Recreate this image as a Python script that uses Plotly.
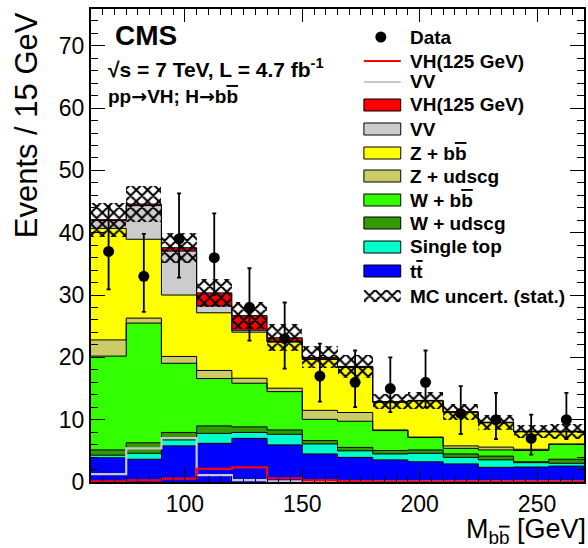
import numpy as np
import plotly.graph_objects as go

# ---------------- data ----------------
bin_edges = [60, 75, 90, 105, 120, 135, 150, 165, 180, 195, 210, 225, 240, 255, 270]
data_counts = [37, 33, 39, 36, 28, 23, 17, 16, 15, 16, 11, 10, 7, 10]
data_err_up = [7.1, 6.8, 7.3, 7.1, 6.3, 5.8, 5.2, 5.1, 5.0, 5.1, 4.4, 4.3, 3.8, 4.3]
data_err_dn = [6.1, 5.7, 6.2, 6.0, 5.3, 4.8, 4.1, 4.0, 3.8, 4.0, 3.3, 3.1, 2.6, 3.1]

ttbar = [3.9, 3.65, 5.8, 6.2, 7.0, 5.95, 4.5, 3.95, 3.55, 3.25, 2.9, 2.35, 2.4, 2.55]
single_top = [0.4, 0.95, 0.95, 1.6, 0.95, 1.7, 1.6, 1.05, 0.95, 1.35, 1.05, 1.2, 0.7, 0.45]
w_udscg = [0.85, 1.7, 1.2, 1.2, 0.9, 0.7, 0.55, 0.55, 0.55, 0.55, 0.55, 0.6, 0.15, 0.65]
w_bb = [15.05, 19.2, 11.1, 7.6, 7.0, 6.15, 3.4, 4.2, 3.2, 2.0, 0.9, 1.0, 1.8, 2.4]
z_udscg = [2.6, 0.8, 1.1, 1.3, 0.8, 0.55, 1.45, 1.4, 0.1, 0.05, 0.4, 0.45, 0.2, 0.05]
z_bb = [17.9, 12.65, 9.85, 9.25, 7.4, 7.4, 8.15, 7.25, 4.45, 5.8, 5.35, 3.9, 2.8, 1.95]
vv = [1.25, 5.4, 7.05, 1.1, 0.3, 0.1, 0.1, 0.05, 0.05, 0.05, 0.05, 0.05, 0.05, 0.05]
vh = [0.1, 0.25, 0.55, 2.1, 2.35, 0.6, 0.25, 0.1, 0.05, 0.05, 0.05, 0.05, 0.05, 0.05]
mc_stat = [2.7, 2.85, 2.4, 2.2, 2.2, 2.2, 1.75, 1.8, 1.25, 1.4, 1.3, 1.2, 1.05, 1.2]

components = [
    ("tt", ttbar, "#0000ff"),
    ("Single top", single_top, "#00ffcc"),
    ("W + udscg", w_udscg, "#339900"),
    ("W + bb", w_bb, "#33ff00"),
    ("Z + udscg", z_udscg, "#cccc66"),
    ("Z + bb", z_bb, "#ffff00"),
    ("VV", vv, "#cccccc"),
    ("VH(125 GeV)", vh, "#ff0000"),
]

edges = np.array(bin_edges, dtype=float)
centers = 0.5 * (edges[:-1] + edges[1:])
widths = np.diff(edges)

FONT = "Liberation Sans"
fig = go.Figure()

base = np.zeros(len(centers))
tops = []
for name, vals, col in components:
    v = np.array(vals, dtype=float)
    fig.add_trace(go.Bar(x=centers, y=v, base=base, width=widths,
                         marker=dict(color=col, line=dict(width=0)),
                         showlegend=False, hoverinfo="skip"))
    base = base + v
    tops.append(base.copy())
total = base

# MC stat uncertainty hatch
err = np.array(mc_stat)
hatch = dict(shape="x", fgcolor="black", fgopacity=1, bgcolor="rgba(0,0,0,0)",
             size=8, solidity=0.45, fillmode="overlay")
fig.add_trace(go.Bar(x=centers, y=2 * err, base=total - err, width=widths,
                     marker=dict(color="rgba(0,0,0,0)", line=dict(width=0), pattern=hatch),
                     showlegend=False, hoverinfo="skip"))

# step outlines of the stack
for t in tops:
    fig.add_trace(go.Scatter(x=edges, y=np.append(t, t[-1]), mode="lines",
                             line=dict(color="black", width=1, shape="hv"),
                             showlegend=False, hoverinfo="skip"))

# unstacked VV and VH lines
for vals, col in [(vv, "#c8c8c8"), (vh, "#ff0000")]:
    v = np.array(vals)
    fig.add_trace(go.Scatter(x=edges, y=np.append(v, v[-1]), mode="lines",
                             line=dict(color=col, width=2.2, shape="hv"),
                             showlegend=False, hoverinfo="skip"))

# data
fig.add_trace(go.Scatter(x=centers, y=data_counts, mode="markers",
                         marker=dict(color="black", size=11, symbol="circle"),
                         error_y=dict(type="data", symmetric=False, array=data_err_up,
                                      arrayminus=data_err_dn, color="black",
                                      thickness=1.8, width=2),
                         showlegend=False, hoverinfo="skip"))

# ---------------- layout ----------------
W, H = 588, 548
L, R, T, B = 91, 2, 9, 66
pw, ph = W - L - R, H - T - B


def px(x):
    return (x - L) / pw


def py(y):
    return (H - B - y) / ph


OV = "<span style='text-decoration:overline'>b</span>"
OVT = "<span style='text-decoration:overline'>t</span>"
ARR = "<span style='font-family:DejaVu Sans'>\u2192</span>"

annotations = []
shapes = []

# y title
annotations.append(dict(text="Events / 15 GeV", xref="paper", yref="paper",
                        x=px(26), y=py(10), xanchor="center", yanchor="top",
                        textangle=-90, showarrow=False,
                        font=dict(family=FONT, size=31, color="black")))
# x title
annotations.append(dict(text="M<sub>b" + OV + "</sub> [GeV]", xref="paper", yref="paper",
                        x=px(590), y=py(512), xanchor="right", yanchor="top",
                        showarrow=False, font=dict(family=FONT, size=27, color="black")))

# CMS labels
annotations.append(dict(text="<b>CMS</b>", xref="paper", yref="paper", x=px(113), y=py(36),
                        xanchor="left", yanchor="middle", showarrow=False,
                        font=dict(family=FONT, size=28, color="black")))
annotations.append(dict(text="<b>\u221as = 7 TeV, L = 4.7 fb<sup>-1</sup></b>", xref="paper",
                        yref="paper", x=px(106), y=py(68), xanchor="left", yanchor="middle",
                        showarrow=False, font=dict(family=FONT, size=21, color="black")))
annotations.append(dict(text="<b>pp" + ARR + "VH; H" + ARR + "b" + OV + "</b>",
                        xref="paper", yref="paper", x=px(106), y=py(96), xanchor="left",
                        yanchor="middle", showarrow=False,
                        font=dict(family=FONT, size=19, color="black")))

# legend
leg_x0, leg_x1, leg_tx = 365, 402, 409
leg_font = dict(family=FONT, size=19, color="black")
leg_items = [
    ("Data", "marker", None, 37),
    ("VH(125 GeV)", "line", "#ff0000", 61),
    ("VV", "line", "#c8c8c8", 82),
    ("VH(125 GeV)", "box", "#ff0000", 105),
    ("VV", "box", "#cccccc", 129),
    ("Z + b" + OV, "box", "#ffff00", 153),
    ("Z + udscg", "box", "#cccc66", 176),
    ("W + b" + OV, "box", "#33ff00", 200),
    ("W + udscg", "box", "#339900", 223),
    ("Single top", "box", "#00ffcc", 247),
    ("t" + OVT, "box", "#0000ff", 271),
    ("MC uncert. (stat.)", "hatch", None, 296),
]
hatch_dom_x = [0, 1]
hatch_dom_y = [0, 1]
for label, kind, col, yc in leg_items:
    annotations.append(dict(text="<b>" + label + "</b>", xref="paper", yref="paper",
                            x=px(leg_tx), y=py(yc), xanchor="left", yanchor="middle",
                            showarrow=False, font=leg_font))
    if kind == "marker":
        shapes.append(dict(type="circle", xref="paper", yref="paper",
                           x0=px(382 - 5.5), x1=px(382 + 5.5), y0=py(yc + 5.5),
                           y1=py(yc - 5.5),
                           fillcolor="black", line=dict(color="black", width=0)))
    elif kind == "line":
        shapes.append(dict(type="line", xref="paper", yref="paper",
                           x0=px(leg_x0), x1=px(leg_x1), y0=py(yc), y1=py(yc),
                           line=dict(color=col, width=2.2)))
    elif kind == "box":
        shapes.append(dict(type="rect", xref="paper", yref="paper",
                           x0=px(leg_x0), x1=px(leg_x1), y0=py(yc + 6), y1=py(yc - 6),
                           fillcolor=col, line=dict(color="black", width=1)))
    elif kind == "hatch":
        hatch_dom_x = [px(leg_x0), px(leg_x1)]
        hatch_dom_y = [py(yc + 6), py(yc - 6)]

# hatched legend box on a small helper axis
fig.add_trace(go.Bar(x=[0], y=[1], width=[1], xaxis="x2", yaxis="y2",
                     marker=dict(color="rgba(0,0,0,0)", line=dict(width=0), pattern=hatch),
                     showlegend=False, hoverinfo="skip"))

axis_common = dict(showline=True, linecolor="black", linewidth=2, mirror="allticks",
                   ticks="inside", tickcolor="black", tickwidth=1.2, showgrid=False,
                   zeroline=False, tickfont=dict(family=FONT, size=23, color="black"))

fig.update_layout(
    width=W, height=H,
    margin=dict(l=L, r=R, t=T, b=B, pad=0),
    paper_bgcolor="white", plot_bgcolor="white",
    barmode="overlay", bargap=0,
    showlegend=False,
    xaxis=dict(range=[60, 270], tickmode="array", tickvals=[100, 150, 200, 250],
               ticklen=13, minor=dict(ticks="inside", dtick=5, tick0=0, ticklen=6,
                                      tickcolor="black", tickwidth=1.2),
               **axis_common),
    yaxis=dict(range=[0, 75.9], dtick=10, tick0=0, ticklen=14,
               minor=dict(ticks="inside", dtick=2, tick0=0, ticklen=7,
                          tickcolor="black", tickwidth=1.2),
               **axis_common),
    xaxis2=dict(domain=hatch_dom_x, range=[-0.5, 0.5], visible=False, anchor="y2",
                fixedrange=True),
    yaxis2=dict(domain=hatch_dom_y, range=[0, 1], visible=False,
                anchor="x2", fixedrange=True),
    annotations=annotations,
    shapes=shapes,
)

fig.write_html("out.html", config={"displayModeBar": False},
               post_script="document.body.style.margin='0';document.body.style.overflow='hidden';")
